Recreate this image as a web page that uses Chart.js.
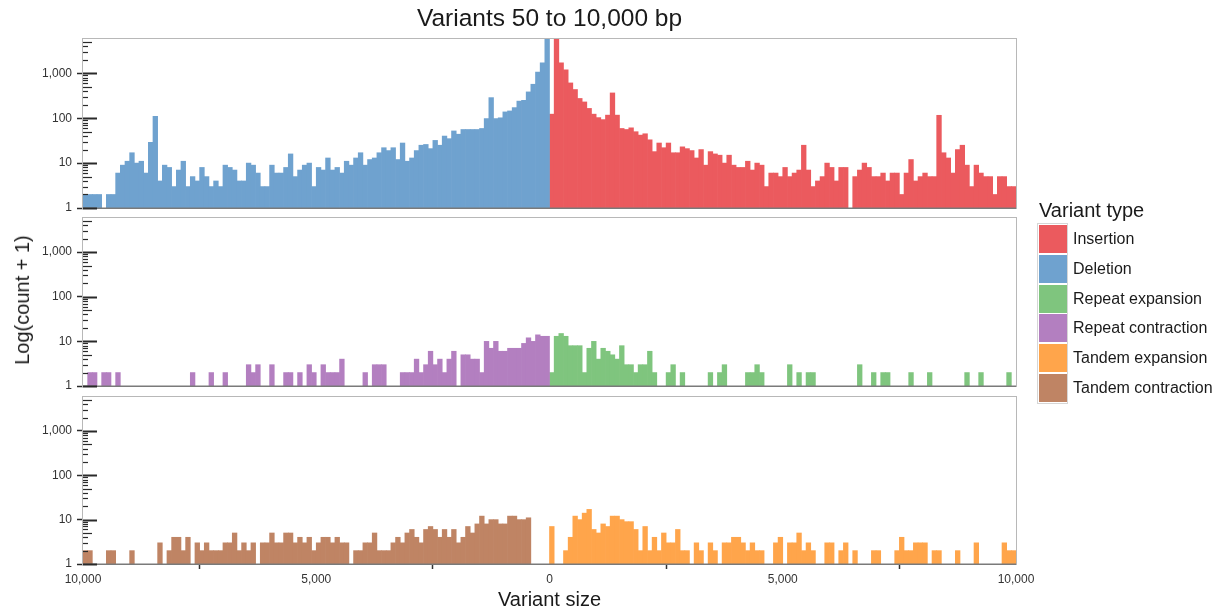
<!DOCTYPE html>
<html>
<head>
<meta charset="utf-8">
<script src="https://cdn.jsdelivr.net/npm/chart.js@4.4.1/dist/chart.umd.min.js"></script>
<style>
html,body{margin:0;padding:0;background:#fff;}
#wrap{position:relative;width:1224px;height:615px;overflow:hidden;font-family:'Liberation Sans',Arial,Helvetica,sans-serif;color:#1a1a1a;}
canvas{position:absolute;left:0;}
.title{position:absolute;left:83px;width:933px;top:3px;text-align:center;font-size:24.5px;line-height:30px;white-space:nowrap;}
.ytitle{position:absolute;left:22px;top:300px;transform:translate(-50%,-50%) rotate(-90deg);font-size:20px;line-height:24px;white-space:nowrap;}
.ltitle{position:absolute;left:1039px;top:198px;font-size:20px;line-height:24px;white-space:nowrap;}
.lbox{position:absolute;left:1037px;top:223px;width:31px;height:181px;box-sizing:border-box;border:1px solid #d6d6d6;}
.key{position:absolute;left:1039px;width:28px;height:28px;}
.lab{position:absolute;left:1073px;font-size:16px;line-height:28px;white-space:nowrap;color:#1a1a1a;}
</style>
</head>
<body>
<div id="wrap">
  <canvas id="p1" width="1224" height="223" style="top:0px"></canvas>
  <canvas id="p2" width="1224" height="198" style="top:203px"></canvas>
  <canvas id="p3" width="1224" height="233" style="top:382px"></canvas>
  <div class="title">Variants 50 to 10,000 bp</div>
  <div class="ytitle">Log(count + 1)</div>
  <div class="ltitle">Variant type</div>
  <div class="lbox"></div>
  <div id="legend"></div>
</div>
<script>
// ---------- data (count + 1 per 100 bp bin; null = empty bin) ----------
const n = null;
const seriesNames = ['Insertion','Deletion','Repeat expansion','Repeat contraction','Tandem expansion','Tandem contraction'];
const seriesColors = ['#EB5A5E','#6FA2CF','#7FC57E','#B37FC0','#FFA54B','#BF8464'];
const xTicks = [-10000,-5000,0,5000,10000];
const yTicks = [1,10,100,1000];
const binWidth = 100;

// deletions, ordered from -10,000 bp to 0
const deletion = [2,2,2,2,n,2,2,6,9,11,
 17,10,11,6,29,110,4,9,8,3,
 7,11,3,5,4,8,5,3,4,3,
 9,8,7,4,4,10,9,6,3,3,
 9,6,6,8,16,5,7,9,10,3,
 8,7,13,7,8,6,11,9,13,17,
 9,12,13,17,22,19,22,12,28,11,
 13,19,25,26,21,32,25,40,35,52,
 44,56,56,56,56,59,98,287,98,102,
 138,145,172,240,250,385,570,1070,1700,6000];
// insertions, ordered from 0 to 10,000 bp
const insertion = [123,6000,1700,1200,610,435,275,230,165,123,
 103,93,117,365,117,59,56,61,50,42,
 45,33,18,28,22,28,17,17,23,21,
 19,13,20,9,18,16,15,10,15,9,
 8,8,11,7,10,9,3,6,6,5,
 8,5,6,7,25,7,3,4,5,10,
 8,4,8,8,n,5,7,10,8,5,
 5,6,4,6,6,2,6,12,4,5,
 6,5,5,116,17,13,6,20,25,9,
 3,9,6,5,5,2,5,5,3,3];
const repeatContraction = [n,2,2,n,2,2,n,2,n,n,
 n,n,n,n,n,n,n,n,n,n,
 n,n,n,2,n,n,n,2,n,n,
 2,n,n,n,n,3,2,3,n,n,
 3,n,n,2,2,n,2,n,3,2,
 n,3,2,2,2,4,n,n,n,n,
 2,n,3,3,3,n,n,n,2,2,
 2,4,2,3,6,3,4,2,4,6,
 n,5,5,4,4,2,10,7,10,6,
 6,7,7,7,9,12,10,14,13,13];
const repeatExpansion = [2,13,15,13,8,8,8,2,7,10,
 4,7,6,5,4,8,3,3,2,3,
 3,6,2,n,n,2,3,n,2,n,
 n,n,n,n,2,n,2,3,n,n,
 n,n,2,2,3,2,n,n,n,n,
 n,3,n,2,n,2,2,n,n,n,
 n,n,n,n,n,n,3,n,n,2,
 n,2,2,n,n,n,n,2,n,n,
 n,2,n,n,n,n,n,n,n,2,
 n,n,2,n,n,n,n,n,2,n];
const tandemContraction = [2,2,n,n,n,2,2,n,n,n,
 2,n,n,n,n,n,3,n,2,4,
 4,2,4,n,3,2,3,2,2,2,
 3,3,5,2,3,2,3,n,3,3,
 5,3,3,5,5,3,4,3,4,2,
 3,4,4,3,4,3,3,n,2,2,
 3,3,5,2,2,2,3,4,3,5,
 6,4,3,6,7,6,4,6,4,6,
 3,4,7,5,8,12,8,10,10,8,
 8,12,12,10,10,11,n,n,n,n];
const tandemExpansion = [7,n,n,2,4,12,10,14,17,6,
 5,8,7,12,12,10,9,9,6,2,
 7,2,4,2,5,3,3,6,2,2,
 n,3,2,n,3,2,n,3,3,4,
 4,3,2,3,2,2,n,n,3,4,
 n,3,3,5,2,3,2,n,n,3,
 3,n,2,3,n,2,n,n,n,2,
 2,n,n,n,2,4,2,2,3,3,
 3,n,2,2,n,n,n,2,n,n,
 n,3,n,n,n,n,n,3,2,2];

// bin centres (categories of the histogram)
const negCenters = deletion.map((_, i) => -10000 + binWidth * i + binWidth / 2);
const posCenters = insertion.map((_, i) => binWidth * i + binWidth / 2);

// ---------- legend ----------
const legendEl = document.getElementById('legend');
seriesNames.forEach((name, i) => {
  const top = 225 + i * 29.8;
  const k = document.createElement('div');
  k.className = 'key'; k.style.top = top + 'px'; k.style.background = seriesColors[i];
  legendEl.appendChild(k);
  const l = document.createElement('div');
  l.className = 'lab'; l.style.top = top + 'px'; l.textContent = name;
  legendEl.appendChild(l);
});

// ---------- chart helpers ----------
Chart.defaults.font.family = "'Liberation Sans', Arial, Helvetica, sans-serif";
Chart.defaults.color = '#333';

const framePlugin = {
  id: 'frame',
  afterDatasetsDraw(chart) {
    const {ctx, chartArea: a} = chart;
    const y = chart.scales.y;
    ctx.save();
    ctx.strokeStyle = '#b8b8b8';
    ctx.lineWidth = 1;
    ctx.strokeRect(a.left - 0.5, a.top - 0.5, a.right - a.left + 1, a.bottom - a.top + 1);
    ctx.strokeStyle = '#7a7a7a';
    ctx.lineWidth = 1.5;
    ctx.beginPath(); ctx.moveTo(a.left, a.bottom + 0.25); ctx.lineTo(a.right, a.bottom + 0.25); ctx.stroke();
    // log ticks inside the panel
    ctx.strokeStyle = '#2a2a2a';
    for (let d = 0; d < 4; d++) {
      for (let k = 1; k < 10; k++) {
        const v = k * Math.pow(10, d);
        if (v < y.min || v > y.max) continue;
        const py = Math.round(y.getPixelForValue(v)) + 0.5;
        const len = k === 1 ? 14 : (k === 5 ? 9 : 5);
        ctx.lineWidth = k === 1 ? 2 : 1.2;
        ctx.beginPath(); ctx.moveTo(a.left, py); ctx.lineTo(a.left + len, py); ctx.stroke();
      }
    }
    ctx.restore();
  }
};

function toPoints(xs, vals) { return vals.map((v, i) => ({x: xs[i], y: v})); }

function makePanel(id, negVals, posVals, negColor, posColor, padTop, padBottom, showX) {
  const ds = (data, color) => ({
    data, backgroundColor: color, borderWidth: 0,
    barPercentage: 1, categoryPercentage: 1, grouped: false
  });
  return new Chart(document.getElementById(id), {
    type: 'bar',
    data: { datasets: [ds(toPoints(negCenters, negVals), negColor), ds(toPoints(posCenters, posVals), posColor)] },
    options: {
      responsive: false, animation: false, devicePixelRatio: 1,
      layout: { padding: { top: padTop, bottom: padBottom, left: 0, right: 208 } },
      plugins: { legend: { display: false }, tooltip: { enabled: false } },
      scales: {
        x: {
          type: 'linear', min: -10000, max: 10000, display: showX, offset: false,
          afterBuildTicks: s => { s.ticks = xTicks.map(v => ({value: v})); },
          ticks: { callback: v => Math.abs(v).toLocaleString('en-US'), font: {size: 12}, color: '#333', padding: 3, maxRotation: 0, autoSkip: false },
          grid: { drawOnChartArea: false, drawTicks: true, tickLength: 5, tickColor: '#333', tickWidth: 1.5 },
          border: { display: false },
          title: { display: showX, text: 'Variant size', font: {size: 20}, color: '#1a1a1a', padding: {top: 0, bottom: 3} },
          afterFit: s => { if (showX) s.height = 51; }
        },
        y: {
          type: 'logarithmic', min: 1, max: 5800,
          afterBuildTicks: s => { s.ticks = yTicks.map(v => ({value: v})); },
          ticks: { callback: v => Number(v).toLocaleString('en-US'), font: {size: 12}, color: '#333', padding: 5, autoSkip: false },
          grid: { drawOnChartArea: false, drawTicks: true, tickLength: 6, tickColor: '#2a2a2a', tickWidth: 1.5 },
          border: { display: false },
          afterFit: s => { s.width = 83; }
        }
      }
    },
    plugins: [framePlugin]
  });
}

makePanel('p1', deletion, insertion, seriesColors[1], seriesColors[0], 39, 15, false);
makePanel('p2', repeatContraction, repeatExpansion, seriesColors[3], seriesColors[2], 15, 15, false);
makePanel('p3', tandemContraction, tandemExpansion, seriesColors[5], seriesColors[4], 15, 0, true);
</script>
</body>
</html>
